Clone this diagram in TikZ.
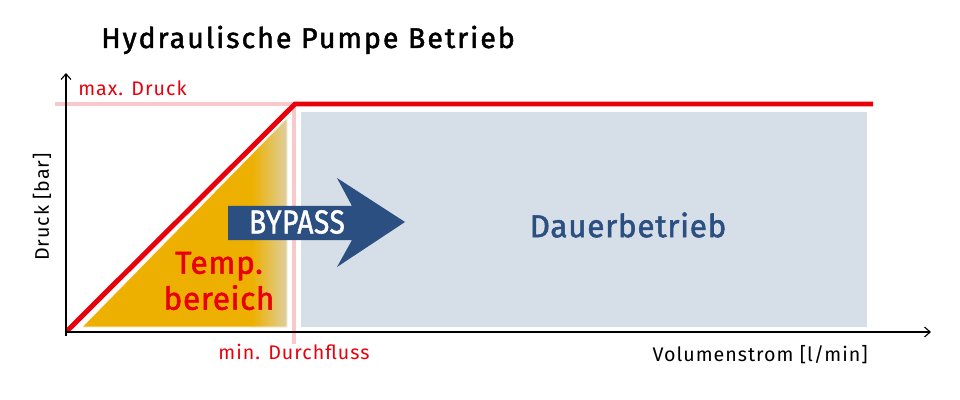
\documentclass[tikz,border=0pt]{standalone}
\usepackage{fontspec}
\setmainfont{Fira Sans}
\newfontfamily\titelfont{Fira Sans}[LetterSpace=7, FakeBold=1.6]
\newfontfamily\kleinfont{Fira Sans}[LetterSpace=5]
\newfontfamily\grossfont{Fira Sans}[LetterSpace=2, FakeBold=1.6]
\usetikzlibrary{arrows.meta}
\definecolor{druckrot}{HTML}{E8000B}
\definecolor{hellrot}{HTML}{F9C8CA}
\definecolor{tempgelb}{HTML}{EEB000}
\definecolor{tempgrau}{HTML}{DCD0A4}
\definecolor{dauergrau}{HTML}{D6DEE8}
\definecolor{bypassblau}{HTML}{2B4F80}
\tikzset{
  achse/.style={thick, -{Straight Barb[length=4pt,width=7pt]}},
  grenze/.style={hellrot, line width=3pt},
  kennlinie/.style={druckrot, line width=3.5pt, line join=miter},
  klein/.style={inner sep=0pt, font=\kleinfont\fontsize{14}{15}\selectfont},
  gross/.style={inner sep=0pt, font=\grossfont\fontsize{22.5}{25.6}\selectfont}
}
\begin{document}
\begin{tikzpicture}[x=0.025cm, y=-0.025cm]
        \useasboundingbox (0,0) rectangle (960,400);

        % Titel
        \node[anchor=base west, inner sep=0pt, font=\titelfont\fontsize{20.3}{24}\selectfont] (titel) at (101,48) {Hydraulische Pumpe Betrieb};

        % Flaechen
        \fill[dauergrau] (301,112) rectangle (867,327);
        \fill[tempgelb] (82,327) -- (287,118) -- (287,327) -- cycle;
        \begin{scope}
            \clip (82,327) -- (287,118) -- (287,327) -- cycle;
            \shade[left color=tempgelb, right color=tempgrau] (252,110) rectangle (288,330);
        \end{scope}
        \draw[white!80!tempgrau, line width=0.6pt] (82,327) -- (287,118) -- (287,327) -- cycle;

        % Grenzlinien (hellrot)
        \draw[grenze] (55,104) -- (480,104);
        \draw[grenze] (294,104) -- (294,344);

        % Kennlinie
        \coordinate (start) at (67,331);
        \coordinate (knick) at (295,104);
        \coordinate (ende) at (873,104);
        \draw[kennlinie] (start) -- (knick) -- (ende);

        % Achsen
        \coordinate (ursprung) at (66,332);
        \coordinate (xende) at (931,332);
        \coordinate (yende) at (66,73);
        \draw[achse] (ursprung) -- (xende);
        \draw[achse] (66,336) -- (yende);

        % Achsbeschriftungen
        \node[klein, rotate=90] (ylabel) at (42,207) {Druck [bar]};
        \node[klein, anchor=east] (xlabel) at (868,355) {Volumenstrom [l/min]};
        \node[klein, text=druckrot, anchor=west] (maxdruck) at (78,88) {max. Druck};
        \node[klein, text=druckrot] (mindurch) at (294,352) {min. Durchfluss};

        % Bypass-Pfeil
        \fill[bypassblau] (228,206) -- (352,206) -- (337,178) -- (405,222)
            -- (337,267) -- (352,240) -- (228,240) -- cycle;
        \node[gross, text=white, font=\grossfont\fontsize{20}{22}\selectfont,
              yscale=1.18, transform shape] (bypass) at (297,222) {BYPASS};

        % Bereiche
        \node[gross, text=bypassblau] (dauer) at (628,225) {Dauerbetrieb};
        \node[gross, text=druckrot, align=center] (temp) at (219,281) {Temp.\\bereich};

\end{tikzpicture}
\end{document}
